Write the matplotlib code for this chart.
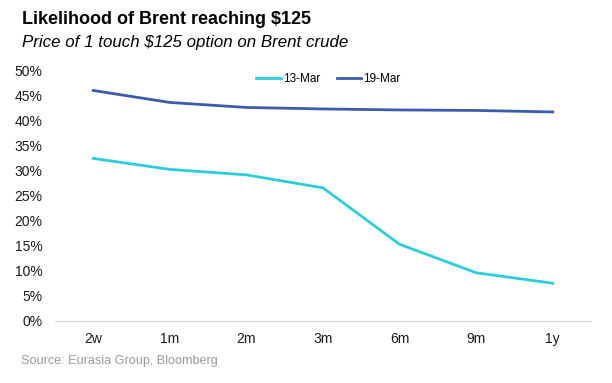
import matplotlib.pyplot as plt
from matplotlib.ticker import PercentFormatter

# --- Data ---
tenors = ['2w', '1m', '2m', '3m', '6m', '9m', '1y']
mar13 = [32.5, 30.3, 29.2, 26.6, 15.3, 9.6, 7.5]
mar19 = [46.1, 43.7, 42.7, 42.4, 42.2, 42.1, 41.8]

plt.rcParams['font.family'] = ['Liberation Sans', 'DejaVu Sans']

fig = plt.figure(figsize=(6.12, 3.83), dpi=100)
ax = fig.add_axes([55 / 612, 1 - 320.7 / 383, 536 / 612, (320.7 - 71) / 383])

x = range(len(tenors))
ax.plot(x, mar13, color='#2BCDD8', lw=2.0, label='13-Mar')
ax.plot(x, mar19, color='#3B5CAD', lw=2.0, label='19-Mar')

ax.set_xlim(-0.5, len(tenors) - 0.5)
ax.set_ylim(0, 50)
ax.set_yticks(range(0, 51, 5))
ax.yaxis.set_major_formatter(PercentFormatter(decimals=0))
ax.set_xticks(list(x))
ax.set_xticklabels(tenors)
ax.tick_params(length=0, labelsize=10, colors='#1a1a1a')
ax.tick_params(axis='x', pad=8)
ax.tick_params(axis='y', pad=9)

for s in ['top', 'right', 'left']:
    ax.spines[s].set_visible(False)
ax.spines['bottom'].set_color('#d9d9d9')

ax.legend(loc='upper center', bbox_to_anchor=(0.51, 1.036), ncol=2, frameon=False,
          fontsize=8.5, handlelength=2.1, columnspacing=1.4, handletextpad=0.15)

fig.text(22 / 612, 1 - 20 / 383, 'Likelihood of Brent reaching $125',
         fontsize=13, fontweight='bold', va='center')
fig.text(22 / 612, 1 - 43 / 383, 'Price of 1 touch $125 option on Brent crude',
         fontsize=12.2, style='italic', va='center')
fig.text(21 / 612, 1 - 361 / 383, 'Source: Eurasia Group, Bloomberg',
         fontsize=9.1, color='#9a9a9a', va='center')

fig.savefig('out.png', dpi=100)
